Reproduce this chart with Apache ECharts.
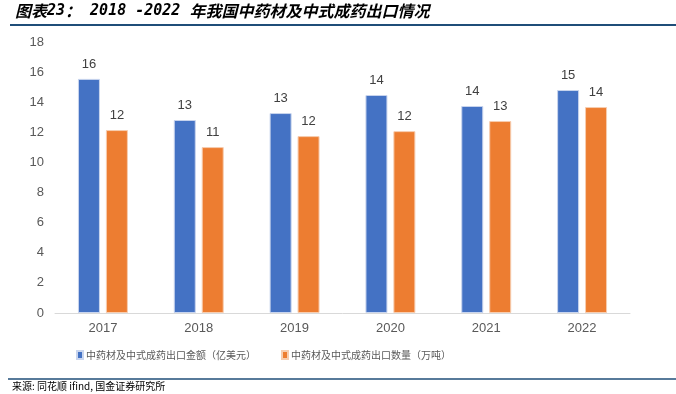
<!DOCTYPE html>
<html><head><meta charset="utf-8">
<script src="https://cdn.jsdelivr.net/npm/echarts@6/dist/echarts.min.js"></script>
<style>html,body{margin:0;padding:0;background:#fff}#c{width:676px;height:394px}</style>
</head><body><div id="c"></div>
<script>
const categories = ['2017','2018','2019','2020','2021','2022'];
const amountValues = [15.55, 12.82, 13.28, 14.48, 13.75, 14.81];
const amountLabels = ['16','13','13','14','14','15'];
const volumeValues = [12.15, 11.02, 11.75, 12.08, 12.75, 13.68];
const volumeLabels = ['12','11','12','12','13','14'];
const seriesNames = ['中药材及中式成药出口金额（亿美元）','中药材及中式成药出口数量（万吨）'];
const titleParts = ['图表', '23', '：', ' 2018 -2022 ', '年我国中药材及中式成药出口情况'];
const sourceText = '来源: 同花顺 ifind, 国金证券研究所';

const chart = echarts.init(document.getElementById('c'), null, {renderer:'canvas'});
const font = '"Noto Sans CJK SC", "Liberation Sans", sans-serif';
function lbl(labels){
  return {show:true, position:'top', distance:8, color:'#404040', fontSize:13, fontFamily:'"Liberation Sans", "Noto Sans CJK SC", sans-serif',
    formatter: p => labels[p.dataIndex]};
}
const cjk = {fontFamily:'"Noto Sans CJK SC", sans-serif', fontSize:16, fontWeight:'bold', fontStyle:'italic', fill:'#000'};
const mono = {fontFamily:'"DejaVu Sans Mono", monospace', fontSize:15, fontWeight:'bold', fontStyle:'italic', fill:'#000'};
chart.setOption({
  animation:false,
  textStyle:{fontFamily:font},
  grid:{left:55, right:46, top:42, bottom:81, containLabel:false},
  legend:{
    bottom:29, left:71, itemWidth:6, itemHeight:8, itemGap:25,
    icon:'rect',
    textStyle:{fontSize:10, color:'#595959', fontFamily:font, padding:[0,0,0,-2]},
    data:seriesNames
  },
  xAxis:{type:'category', data:categories,
    axisLine:{lineStyle:{color:'#D9D9D9', width:1}}, axisTick:{show:false},
    axisLabel:{color:'#595959', fontSize:13, margin:9, fontFamily:'"Liberation Sans", sans-serif'}},
  yAxis:{type:'value', min:0, max:18, interval:2,
    axisLine:{show:false}, axisTick:{show:false}, splitLine:{show:false},
    axisLabel:{color:'#595959', fontSize:13, margin:11, fontFamily:'"Liberation Sans", sans-serif'}},
  series:[
    {name:seriesNames[0], type:'bar', data:amountValues, barWidth:22, barGap:'27%',
     itemStyle:{color:'#4472C4', borderColor:'#C9D5EE', borderWidth:1}, label:lbl(amountLabels)},
    {name:seriesNames[1], type:'bar', data:volumeValues, barWidth:22,
     itemStyle:{color:'#ED7D31', borderColor:'#F7CDB0', borderWidth:1}, label:lbl(volumeLabels)}
  ],
  graphic:[
    {type:'text', left:15, top:3, style:{
      text:'{c|'+titleParts[0]+'}{m|'+titleParts[1]+'}{c|'+titleParts[2]+'}{m|'+titleParts[3]+'}{c|'+titleParts[4]+'}',
      rich:{c:cjk, m:mono}}},
    {type:'line', shape:{x1:10, y1:25, x2:676, y2:25}, style:{stroke:'#1F4E79', lineWidth:2}},
    {type:'line', shape:{x1:8, y1:379, x2:676, y2:379}, style:{stroke:'#1F4E79', lineWidth:1.5}},
    {type:'text', left:12, top:381, style:{text:sourceText, fill:'#000', font:'10px "Noto Sans CJK SC", sans-serif'}}
  ]
});
</script></body></html>
